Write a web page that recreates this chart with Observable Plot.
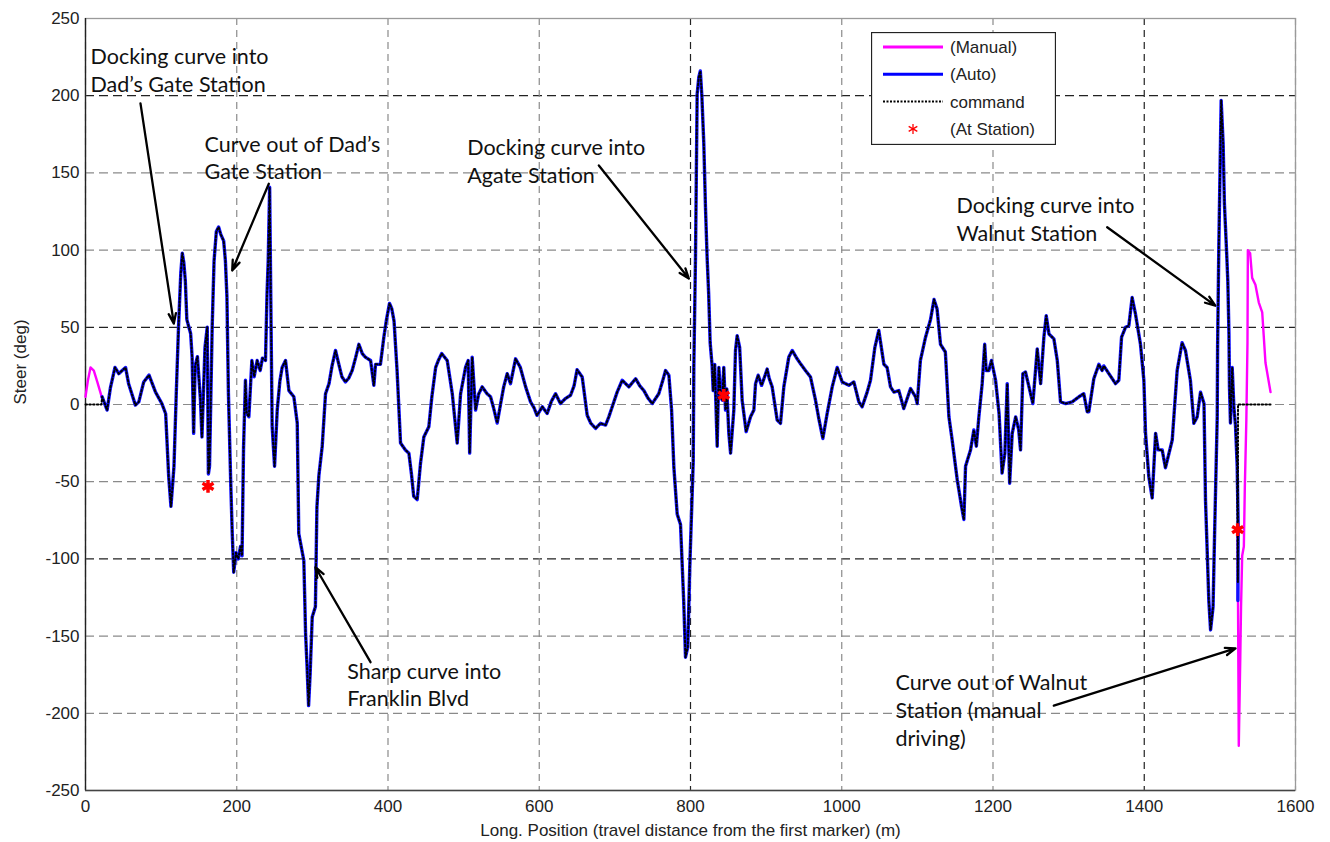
<!DOCTYPE html>
<html>
<head>
<meta charset="utf-8">
<script src="https://cdn.jsdelivr.net/npm/d3@7"></script>
<script src="https://cdn.jsdelivr.net/npm/@observablehq/plot@0.6"></script>
<style>
  body { margin: 0; background: #fff; }
  #wrap { position: relative; width: 1330px; height: 842px; }
  #legend { position: absolute; left: 871px; top: 32px; }
</style>
</head>
<body>
<div id="wrap"><div id="chart"></div><div id="legend"></div></div>
<script>
// ---------------- data ----------------
const xTicks = [0, 200, 400, 600, 800, 1000, 1200, 1400, 1600];
const yTicks = [-250, -200, -150, -100, -50, 0, 50, 100, 150, 200, 250];
const xDarkGrid = [800, 1400];
const yDarkGrid = [200, 50, -100];
const xLabel = "Long. Position (travel distance from the first marker) (m)";
const yLabel = "Steer (deg)";

// Automatic steering (long. position m, steer deg)
const autoPoints = [
  [22,5],[28.6,-3.6],[33,11],[39,24],[44,20],[48.5,22],[53,24],[57,13.5],[66,-0.4],[70.5,1.7],
  [77,14.6],[84,19],[92.6,8],[101,0.6],[106,-6],[110,-46.6],[113,-66],[117,-40],[120,7],[123,50],
  [126,85],[128,98],[130,92],[132,80],[134,55],[139,46],[141,30.7],[143,-18.7],[145,25],[148,31],
  [152,3],[154,-21],[158,37],[161,50],[162.5,-45],[164,-40],[167.5,50],[170,93],[173,112],[176,115],
  [179,110],[182.7,106],[185,93],[187,70],[189,7],[192,-50],[194,-83],[196,-108.6],[199,-96],[202,-100],
  [205,-92],[207,-98],[209,-27.6],[211.5,15.7],[213,-5],[216,-8],[220,28.5],[223,18],[227,28.5],[231,22],
  [234,30],[238,28.5],[240,71],[241.6,93],[243.5,140.7],[245.5,46],[246.8,-14],[250,-40],[253.5,-3.6],[257,15],
  [260,24],[264.5,28.5],[269,9],[275.5,5],[280,-12],[282,-83.6],[288.7,-101],[291,-148],[293,-170],[295,-195],
  [297,-175],[299.8,-137.7],[304,-131],[306,-66.5],[308.6,-46],[313,-27],[317.4,7],[322,13.5],[326,25],[330.6,35],
  [335,26],[339,18],[343.8,14.6],[348,17],[352.6,22],[357,30],[361.5,39],[366,33],[370,30.7],[377,28.5],
  [381.3,12.4],[383.5,26],[390,26],[394.5,43.6],[398,55],[402,65.5],[405,62],[408,54],[412,22],[416.6,-25],
  [423,-29.4],[427.6,-31.5],[431,-45],[434,-59.4],[438.6,-61.6],[443,-38],[447.4,-21],[454,-14.4],[458,5],[463,24],
  [467,29],[471,33],[478.3,28.5],[485,7],[491.5,-25],[496,7],[502.5,24],[506,28.5],[508,-31.5],[511.3,30.7],
  [515.8,-3.6],[520,7],[524.6,11.4],[531,7],[535.6,5],[540,-3],[544.4,-12],[549,0.6],[553,11.4],[557.6,20],
  [562,13.5],[568.7,29.6],[575,24],[582,11.4],[588.5,1.7],[593,-2],[597,-7],[604,-1.5],[610.5,-5.8],[616,2],
  [621.6,7],[628,0.6],[635,4],[641.4,6],[646,12],[650,22.5],[656.8,17.8],[663.4,-7],[668,-12],[674.5,-15.5],
  [681,-12.2],[687.7,-13.3],[692,-8],[696.5,-1.5],[703,8],[709.7,15.7],[718.5,11.4],[727.4,16.7],[733,12],[738.4,9],
  [744,4],[749.4,0.6],[758,7],[763,15],[767,22],[771.4,19],[775,-3.6],[778,-40.6],[782.4,-71],[786.8,-77.7],
  [791,-127],[793.4,-163.7],[796.4,-157],[799,-106],[803.6,-37],[804.4,24],[806.6,95],[808.8,201],[811,212],[813,216],
  [815,200],[817.6,169],[819.8,127.8],[822,95],[824,72],[826,40],[828.6,25],[830,9],[832,26],[835.3,-27],
  [837.5,24],[840,5],[842,2.8],[844,24],[846.3,-3.6],[848,10],[850.7,-18.7],[853,-31.5],[857.3,-3.6],[859.5,35],
  [861.7,44.6],[865,37],[868.3,2.8],[873.6,-17.6],[879.4,-8],[883.8,-3.6],[886,13.5],[889.5,19],[894,12.4],[898,18],
  [901.4,23],[904,17],[908,11.4],[914.6,-10],[919,-12.2],[923.4,11.4],[930,30.7],[934.5,35],[941,29.6],[946,26],
  [952,22],[958.7,17.8],[965.3,2.8],[970,-10],[975,-22],[980.7,-5.8],[987.4,11.4],[994,24],[1000.6,14.6],[1009.4,12.4],
  [1016,14.6],[1022.6,1.7],[1027,-1.5],[1033.6,8],[1038,15.7],[1043.8,37],[1049,48],[1055.7,26],[1060,24],[1064.5,11.4],
  [1069,8],[1075.5,9],[1082,-2.6],[1091,10.3],[1097.6,5],[1099.8,0.6],[1104,28.5],[1110.8,43.6],[1117.4,55],[1122,68],
  [1126,62],[1130.6,39],[1137,34],[1141.7,-8],[1146,-23],[1152.7,-48.7],[1158.4,-66],[1161.5,-74.5],[1163.7,-40],[1170.3,-29.4],
  [1174.7,-16.5],[1178,-27],[1181.3,-8],[1185.7,13.5],[1189,39],[1191,22],[1194.5,22],[1198,28.5],[1203.4,15.7],[1208,-5.8],
  [1212,-44.4],[1215.7,-31.5],[1218.8,13.5],[1222,-51],[1225.4,-18.7],[1230,-8],[1234,-16.5],[1236.4,-29.4],[1239.5,20],[1243,21],
  [1249.7,7],[1252.7,0.6],[1258.5,36],[1263,13.5],[1267.3,43.6],[1270.4,57.5],[1274,45.7],[1280.5,42.5],[1285,28.5],[1289.3,1.7],
  [1296,0.6],[1304.7,1.7],[1313.6,5],[1320,7],[1324.6,-4.7],[1326.7,-4.7],[1333.3,16.7],[1340,26],[1344.3,22],[1346.5,25],
  [1353.2,20],[1362,13.5],[1366.4,15.7],[1370,43.6],[1375.2,50],[1379.6,51],[1384,69.3],[1388.4,58.6],[1395,39],[1399.5,15.7],
  [1401.7,-18.7],[1406,-46.6],[1410.5,-60.5],[1415,-18.7],[1418.4,-29.4],[1423.7,-29.4],[1428,-41],[1437,-23],[1443.5,22],[1450,40],
  [1454.5,35],[1461,15.7],[1465.6,-12.2],[1470,-8],[1474.4,8],[1479,0.6],[1481,-62],[1485.4,-127],[1487.7,-146],[1491,-131],
  [1493,-84],[1496.5,-8],[1497,37.5],[1498.6,102],[1501.7,197],[1504.3,169],[1506,130],[1508.8,100],[1510.5,80],[1512,46],
  [1512.7,11.4],[1514,-12],[1516.3,24],[1518.5,-1.5],[1520.7,-14],[1522.9,-40]
];
const autoTail = [[1524.2,-79],[1523.8,-127]];

// Command: zero before the run, follows the auto trace, then the final drop and zero
const commandHead = [[0,0],[21,0]];
const commandTail = [[1523.8,-115],[1524,0],[1567,0]];

// Manual steering (two stretches)
const manualStart = [[0,5],[3,15],[6.6,24],[11,22],[15.4,15],[22,4]];
const manualEnd = [[1523.5,-82],[1525,-221],[1527,-163.6],[1528,-131],[1529.5,-98],[1531.7,-92],[1533,-53.5],
  [1535,-10],[1536.5,40],[1537,100],[1540,98],[1542.7,82],[1547,77.6],[1551.5,66],[1556,59.6],[1560.3,27],[1567,8]];

// Vehicle at station
const stationX = [162, 844, 1523.5];
const stationY = [-53, 6, -81];

// Annotations (text block left/centre, in data units) and arrows
const noteText = [
  "Docking curve into\nDad’s Gate Station",
  "Curve out of Dad’s\nGate Station",
  "Docking curve into\nAgate Station",
  "Docking curve into\nWalnut Station",
  "Sharp curve into\nFranklin Blvd",
  "Curve out of Walnut\nStation (manual\ndriving)"
];
const noteX = [6.6, 157.4, 504.7, 1151.7, 346, 1071];
const noteY = [217, 160.5, 158.4, 120.5, -180.7, -197.4];
const arrowFrom = [[72.7,195],[242.4,143],[678.8,154.8],[1351,114.8],[376.9,-166.9],[1280.4,-195]];
const arrowTo   = [[116.8,52.4],[194,86.8],[797.8,81.6],[1494,64],[304,-105.4],[1520.7,-158]];

// ---------------- build tables ----------------
const toObj = ([x, y]) => ({x, y});
const auto = autoPoints.concat(autoTail).map(toObj);
const command = commandHead.concat(autoPoints, commandTail).map(toObj);
const manual = manualStart.map(p => ({...toObj(p), seg: "a"}))
  .concat(manualEnd.map(p => ({...toObj(p), seg: "b"})));
const stations = stationX.map((x, i) => ({x, y: stationY[i]}));
const notes = noteText.map((text, i) => ({text, x: noteX[i], y: noteY[i]}));
const arrows = arrowFrom.map((f, i) => ({x1: f[0], y1: f[1], x2: arrowTo[i][0], y2: arrowTo[i][1]}));

const font = "'Liberation Sans', Arial, sans-serif";

const chart = Plot.plot({
  width: 1330,
  height: 842,
  marginLeft: 85,
  marginRight: 35,
  marginTop: 18,
  marginBottom: 52,
  style: {fontFamily: font, fontSize: "17px", color: "#222", background: "#fff"},
  x: {domain: [0, 1600]},
  y: {domain: [-250, 250]},
  marks: [
    Plot.ruleY(yTicks.filter(t => !yDarkGrid.includes(t)), {stroke: "#8a8a8a", strokeWidth: 1.2, strokeDasharray: "9,5"}),
    Plot.ruleY(yDarkGrid, {stroke: "#222", strokeWidth: 1.2, strokeDasharray: "9,5"}),
    Plot.ruleX(xTicks.filter(t => !xDarkGrid.includes(t)), {stroke: "#8a8a8a", strokeWidth: 1.2, strokeDasharray: "7,5"}),
    Plot.ruleX(xDarkGrid, {stroke: "#222", strokeWidth: 1.2, strokeDasharray: "7,5"}),
    Plot.frame({stroke: "#9a9a9a", strokeWidth: 1.3}),
    Plot.ruleX([0], {stroke: "#222", strokeWidth: 1.3}),
    Plot.ruleY([-250], {stroke: "#444", strokeWidth: 1.3}),
    Plot.axisX({ticks: xTicks, tickSize: 0, tickPadding: 9, tickFormat: d => String(d), label: null, fontSize: 17}),
    Plot.axisY({ticks: yTicks, tickSize: 0, tickPadding: 6, tickFormat: d => String(d), label: null, fontSize: 17}),
    Plot.text([xLabel], {frameAnchor: "bottom", dy: 40, lineAnchor: "middle", fontSize: 17, fill: "#222"}),
    Plot.text([yLabel], {frameAnchor: "left", dx: -65, rotate: -90, lineAnchor: "middle", fontSize: 17, fill: "#222"}),
    Plot.line(manual, {x: "x", y: "y", z: "seg", stroke: "#ff00ff", strokeWidth: 2.4}),
    Plot.line(auto, {x: "x", y: "y", stroke: "#1010ff", strokeWidth: 3.4}),
    Plot.line(command, {x: "x", y: "y", stroke: "#000", strokeWidth: 2, strokeDasharray: "1.5,2.3"}),
    Plot.dot(stations, {x: "x", y: "y", symbol: "asterisk", r: 6, stroke: "#ff0000", strokeWidth: 3.5}),
    Plot.arrow(arrows, {x1: "x1", y1: "y1", x2: "x2", y2: "y2", stroke: "#000", strokeWidth: 2.3, headLength: 7, headAngle: 40}),
    Plot.text(notes, {x: "x", y: "y", text: "text", textAnchor: "start", lineAnchor: "middle", lineHeight: 1.29,
      fontSize: 21.5, fontFamily: "Lato, 'Open Sans', sans-serif", fill: "#111"})
  ]
});
document.getElementById("chart").appendChild(chart);

// ---------------- legend (inside the axes, top-right) ----------------
const legendItems = [
  {label: "(Manual)", kind: "line", color: "#ff00ff", dash: null},
  {label: "(Auto)", kind: "line", color: "#0000ff", dash: null},
  {label: "command", kind: "line", color: "#000", dash: "2,1.5"},
  {label: "(At Station)", kind: "star", color: "#ff0000", dash: null}
];
const lw = 185, lh = 113;
const lg = d3.select("#legend").append("svg").attr("width", lw).attr("height", lh);
lg.append("rect").attr("x", 0.5).attr("y", 0.5).attr("width", lw - 1).attr("height", lh - 1)
  .attr("fill", "#fff").attr("stroke", "#222").attr("stroke-width", 1.3);
legendItems.forEach((d, i) => {
  const cy = 15 + i * 27.3;
  const g = lg.append("g");
  if (d.kind === "line") {
    g.append("line").attr("x1", 12).attr("x2", 72).attr("y1", cy).attr("y2", cy)
      .attr("stroke", d.color).attr("stroke-width", d.dash ? 2 : 3).attr("stroke-dasharray", d.dash);
  } else {
    const s = 5;
    for (let a = 0; a < 180; a += 60) {
      const r = a * Math.PI / 180;
      g.append("line").attr("x1", 42 - s * Math.sin(r)).attr("y1", cy - s * Math.cos(r))
        .attr("x2", 42 + s * Math.sin(r)).attr("y2", cy + s * Math.cos(r))
        .attr("stroke", d.color).attr("stroke-width", 1.3);
    }
  }
  g.append("text").attr("x", 79).attr("y", cy).attr("dy", "0.35em")
    .attr("font-family", font).attr("font-size", 17).attr("fill", "#222").text(d.label);
});
</script>
</body>
</html>
